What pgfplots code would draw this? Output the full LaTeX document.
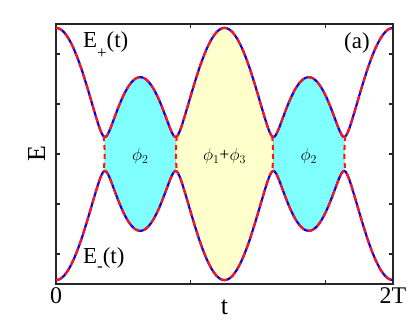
\documentclass[border=0pt]{standalone}
\usepackage{fontspec}
\setmainfont{Liberation Serif}
\usepackage{pgfplots}
\pgfplotsset{compat=1.18}
\usepackage{pgfplotstable}
\usepgfplotslibrary{fillbetween}

\definecolor{mycyan}{RGB}{128,255,255}
\definecolor{myyellow}{RGB}{255,255,204}
\definecolor{myblue}{RGB}{0,0,255}
\definecolor{myred}{RGB}{255,20,20}

\pgfplotstableread{
t E
0 2.523
0.025 2.499
0.05 2.426
0.075 2.307
0.1 2.145
0.125 1.944
0.15 1.710
0.175 1.448
0.2 1.169
0.225 0.881
0.25 0.605
0.265 0.461
0.275 0.388
0.28 0.362
0.285 0.346
0.29 0.340
0.295 0.345
0.3 0.360
0.31 0.414
0.325 0.531
0.35 0.756
0.375 0.975
0.4 1.169
0.425 1.326
0.45 1.443
0.475 1.514
0.5 1.538
0.525 1.514
0.55 1.443
0.575 1.326
0.6 1.169
0.625 0.975
0.65 0.756
0.675 0.531
0.69 0.414
0.7 0.360
0.705 0.345
0.71 0.340
0.715 0.346
0.72 0.362
0.725 0.388
0.735 0.461
0.75 0.605
0.775 0.881
0.8 1.169
0.825 1.448
0.85 1.710
0.875 1.944
0.9 2.145
0.925 2.307
0.95 2.426
0.975 2.499
1 2.523
1.025 2.499
1.05 2.426
1.075 2.307
1.1 2.145
1.125 1.944
1.15 1.710
1.175 1.448
1.2 1.169
1.225 0.881
1.25 0.605
1.265 0.461
1.275 0.388
1.28 0.362
1.285 0.346
1.29 0.340
1.295 0.345
1.3 0.360
1.31 0.414
1.325 0.531
1.35 0.756
1.375 0.975
1.4 1.169
1.425 1.326
1.45 1.443
1.475 1.514
1.5 1.538
1.525 1.514
1.55 1.443
1.575 1.326
1.6 1.169
1.625 0.975
1.65 0.756
1.675 0.531
1.69 0.414
1.7 0.360
1.705 0.345
1.71 0.340
1.715 0.346
1.72 0.362
1.725 0.388
1.735 0.461
1.75 0.605
1.775 0.881
1.8 1.169
1.825 1.448
1.85 1.710
1.875 1.944
1.9 2.145
1.925 2.307
1.95 2.426
1.975 2.499
2 2.523
}\datatable

\begin{document}
\begin{tikzpicture}
\begin{axis}[
  scale only axis, width=337bp, height=260bp,
  xmin=0, xmax=2, ymin=-2.6, ymax=2.6,
  xtick={0,0.8,1.6,2}, xticklabels={\textrm{0},,,\textrm{2T}},
  ytick={-2,-1,0,1,2}, yticklabels={},
  tick align=inside, major tick length=4bp,
  axis line style={line width=1.6bp, black!85},
  tick style={line width=1.2bp, black!85},
  xticklabel style={anchor=base, yshift=-20bp, font=\fontsize{24}{28}\selectfont},
  clip mode=individual,
]
\addplot[name path=up, draw=none, smooth] table[x=t,y=E] {\datatable};
\addplot[name path=lo, draw=none, smooth] table[x=t,y expr=-\thisrow{E}] {\datatable};
\addplot[fill=mycyan, draw=teal!50, line width=0.6bp] fill between[of=up and lo, soft clip={domain=0.29:0.71}];
\addplot[fill=myyellow, draw=gray!40, line width=0.6bp] fill between[of=up and lo, soft clip={domain=0.71:1.29}];
\addplot[fill=mycyan, draw=teal!50, line width=0.6bp] fill between[of=up and lo, soft clip={domain=1.29:1.71}];
\addplot[myblue, line width=2.2bp, smooth] table[x=t,y=E] {\datatable};
\addplot[myblue, line width=2.2bp, smooth] table[x=t,y expr=-\thisrow{E}] {\datatable};
\addplot[myred, line width=2.2bp, smooth, dash pattern=on 7bp off 4bp] table[x=t,y=E] {\datatable};
\addplot[myred, line width=2.2bp, smooth, dash pattern=on 7bp off 4bp] table[x=t,y expr=-\thisrow{E}] {\datatable};
\addplot[myred, line width=2bp, smooth, dash pattern=on 5bp off 4bp] coordinates {(0.283,0.36) (0.287,0.17) (0.289,0) (0.287,-0.17) (0.283,-0.36)};
\addplot[myred, line width=2bp, smooth, dash pattern=on 5bp off 4bp] coordinates {(0.717,0.36) (0.713,0.17) (0.711,0) (0.713,-0.17) (0.717,-0.36)};
\addplot[myred, line width=2bp, smooth, dash pattern=on 5bp off 4bp] coordinates {(1.283,0.36) (1.287,0.17) (1.289,0) (1.287,-0.17) (1.283,-0.36)};
\addplot[myred, line width=2bp, smooth, dash pattern=on 5bp off 4bp] coordinates {(1.717,0.36) (1.713,0.17) (1.711,0) (1.713,-0.17) (1.717,-0.36)};
\node[anchor=west, font=\fontsize{23}{26}\selectfont, inner sep=0pt] at (axis cs:0.16,2.18) {E\raisebox{-0.45em}{\fontsize{17}{17}\selectfont +}(t)};
\node[anchor=west, font=\fontsize{23}{26}\selectfont, inner sep=0pt] at (axis cs:0.16,-2.12) {E\raisebox{-0.35em}{\fontsize{17}{17}\selectfont -}(t)};
\node[font=\fontsize{23}{26}\selectfont, inner sep=0pt] at (axis cs:1.786,2.22) {(a)};
\node[font=\fontsize{18}{20}\selectfont, inner sep=0pt] at (axis cs:0.5,-0.05) {$\phi_2$};
\node[font=\fontsize{18}{20}\selectfont, inner sep=0pt] at (axis cs:1.0,-0.05) {$\phi_1$+$\phi_3$};
\node[font=\fontsize{18}{20}\selectfont, inner sep=0pt] at (axis cs:1.5,-0.05) {$\phi_2$};
\end{axis}
\node[rotate=90, anchor=base, font=\fontsize{26}{30}\selectfont] at ([xshift=-11bp]current axis.west) {E};
\node[anchor=base, font=\fontsize{26}{30}\selectfont] at ([yshift=-31bp]current axis.south) {t};
\path[use as bounding box] ([shift={(-56bp,-37bp)}]current axis.south west) rectangle ([shift={(22bp,24bp)}]current axis.north east);
\end{tikzpicture}
\end{document}
